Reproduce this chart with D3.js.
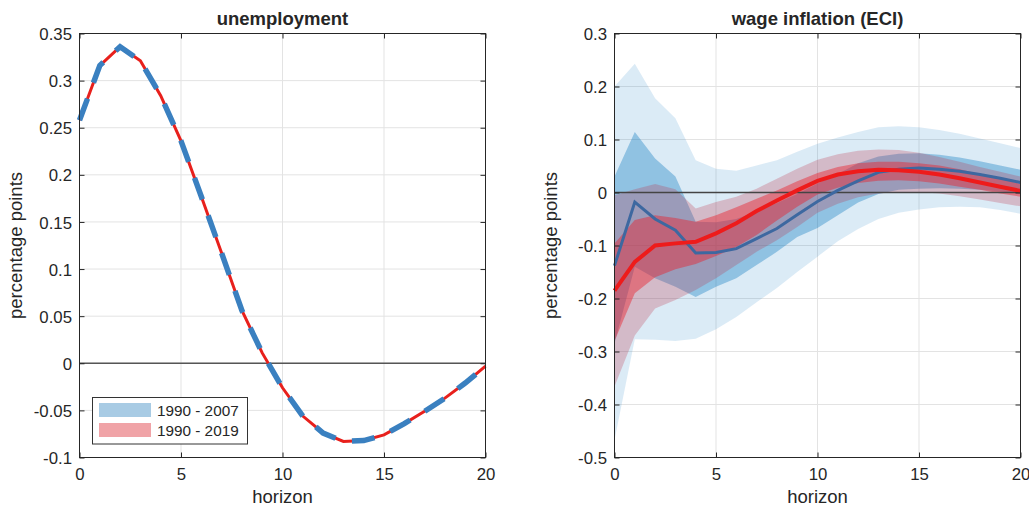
<!DOCTYPE html>
<html><head><meta charset="utf-8">
<script src="https://cdn.jsdelivr.net/npm/d3@7"></script>
<style>
body{margin:0;background:#fff}
svg{display:block}
text{font-family:"Liberation Sans",Arial,Helvetica,sans-serif;fill:#262626}
</style>
</head><body>
<svg id="c" width="1029" height="508"></svg>
<script>
// ---------- data ----------
const horizon = [0,1,2,3,4,5,6,7,8,9,10,11,12,13,14,15,16,17,18,19,20];
const xTicks = [0,5,10,15,20];
const seriesNames = ["1990 - 2007","1990 - 2019"];

// unemployment
const unempTitle = "unemployment";
const unempYTicks = [0.35,0.3,0.25,0.2,0.15,0.1,0.05,0,-0.05,-0.1];
const unempYLabels = ["0.35","0.3","0.25","0.2","0.15","0.1","0.05","0","-0.05","-0.1"];
const unemp2019 = [0.258,0.316,0.336,0.321,0.284,0.236,0.177,0.117,0.056,0.011,-0.026,-0.056,-0.074,-0.083,-0.082,-0.076,-0.064,-0.051,-0.037,-0.021,-0.003];
const unemp2007 = [0.258,0.316,0.336,0.321,0.284,0.236,0.177,0.117,0.056,0.011,-0.026,-0.056,-0.074,-0.083,-0.082,-0.076,-0.064,-0.051,-0.037,-0.021,-0.003];

// wage inflation (ECI)
const wageTitle = "wage inflation (ECI)";
const wageYTicks = [0.3,0.2,0.1,0,-0.1,-0.2,-0.3,-0.4,-0.5];
const wageYLabels = ["0.3","0.2","0.1","0","-0.1","-0.2","-0.3","-0.4","-0.5"];
const wage2007 = [-0.138,-0.018,-0.05,-0.071,-0.114,-0.113,-0.106,-0.087,-0.068,-0.042,-0.017,0.004,0.022,0.038,0.044,0.046,0.044,0.040,0.034,0.027,0.019];
const wage2019 = [-0.185,-0.131,-0.100,-0.096,-0.093,-0.077,-0.058,-0.035,-0.015,0.004,0.022,0.034,0.040,0.043,0.042,0.039,0.034,0.027,0.019,0.011,0.003];
const wage2007Hi90 = [0.200,0.243,0.178,0.140,0.061,0.045,0.041,0.051,0.061,0.077,0.092,0.104,0.114,0.123,0.125,0.123,0.118,0.111,0.102,0.093,0.084];
const wage2007Lo90 = [-0.467,-0.277,-0.278,-0.280,-0.276,-0.258,-0.235,-0.207,-0.180,-0.150,-0.121,-0.092,-0.069,-0.050,-0.038,-0.032,-0.028,-0.027,-0.028,-0.033,-0.040];
const wage2007Hi68 = [0.030,0.114,0.064,0.030,-0.055,-0.056,-0.050,-0.036,-0.020,-0.003,0.017,0.035,0.055,0.068,0.073,0.074,0.071,0.066,0.059,0.051,0.043];
const wage2007Lo68 = [-0.285,-0.140,-0.162,-0.178,-0.197,-0.178,-0.162,-0.137,-0.112,-0.084,-0.067,-0.043,-0.019,-0.003,0.005,0.007,0.008,0.007,0.005,0.002,-0.002];
const wage2019Hi90 = [-0.005,0.006,0.016,0.006,-0.030,-0.018,-0.008,0.007,0.026,0.045,0.062,0.072,0.079,0.081,0.080,0.075,0.067,0.058,0.048,0.039,0.030];
const wage2019Lo90 = [-0.366,-0.270,-0.219,-0.203,-0.184,-0.162,-0.137,-0.112,-0.090,-0.065,-0.038,-0.021,-0.009,-0.002,0.001,0.001,-0.002,-0.007,-0.013,-0.020,-0.026];
const wage2019Hi68 = [-0.096,-0.052,-0.043,-0.048,-0.055,-0.043,-0.028,-0.012,0.004,0.021,0.037,0.048,0.055,0.058,0.058,0.055,0.051,0.044,0.035,0.026,0.016];
const wage2019Lo68 = [-0.280,-0.190,-0.160,-0.145,-0.135,-0.120,-0.103,-0.080,-0.053,-0.027,-0.004,0.009,0.018,0.022,0.023,0.021,0.017,0.011,0.005,-0.002,-0.008];

const xLabel = "horizon";
const yLabel = "percentage points";

// ---------- drawing ----------
const svg = d3.select("#c");
const AX = "#262626";

function panel(opt){
  const g = svg.append("g");
  const x = d3.scaleLinear().domain([0,20]).range([opt.x0,opt.x1]);
  const y = d3.scaleLinear().domain(opt.yDomain).range([opt.y1,opt.y0]);
  // grid
  const grid = g.append("g");
  grid.selectAll(".gx").data(xTicks).join("line")
    .attr("x1",d=>x(d)).attr("x2",d=>x(d)).attr("y1",opt.y0).attr("y2",opt.y1)
    .attr("stroke","#e3e3e3").attr("stroke-width",1);
  grid.selectAll(".gy").data(opt.yTicks).join("line")
    .attr("x1",opt.x0).attr("x2",opt.x1).attr("y1",d=>y(d)).attr("y2",d=>y(d))
    .attr("stroke","#e3e3e3").attr("stroke-width",1);
  const plot = g.append("g");
  // axes via d3 axis (ticks inside)
  const ax = g.append("g");
  const tl = 5;
  const bottom = ax.append("g").attr("transform",`translate(0,${opt.y1})`)
    .call(d3.axisBottom(x).tickValues(xTicks).tickSizeInner(-tl).tickSizeOuter(0).tickPadding(10.5).tickFormat(d3.format("d")));
  ax.append("g").attr("transform",`translate(0,${opt.y0})`)
    .call(d3.axisTop(x).tickValues(xTicks).tickSizeInner(-tl).tickSizeOuter(0).tickFormat(""));
  const left = ax.append("g").attr("transform",`translate(${opt.x0},0)`)
    .call(d3.axisLeft(y).tickValues(opt.yTicks).tickSizeInner(-tl).tickSizeOuter(0).tickPadding(7.5)
      .tickFormat((d,i)=>opt.yLabels[i]));
  ax.append("g").attr("transform",`translate(${opt.x1},0)`)
    .call(d3.axisRight(y).tickValues(opt.yTicks).tickSizeInner(-tl).tickSizeOuter(0).tickFormat(""));
  ax.selectAll(".domain").remove();
  ax.selectAll(".tick line").attr("stroke",AX).attr("stroke-width",1);
  ax.selectAll(".tick text").attr("font-size","16.8px").attr("fill",AX)
    .style("font-family",'"Liberation Sans",Arial,sans-serif');
  left.selectAll(".tick text").attr("dy","0.36em");
  bottom.selectAll(".tick text").attr("dy","0.71em");
  ax.append("rect").attr("x",opt.x0).attr("y",opt.y0).attr("width",opt.x1-opt.x0).attr("height",opt.y1-opt.y0)
    .attr("fill","none").attr("stroke",AX).attr("stroke-width",1);
  // title & labels
  g.append("text").attr("x",(opt.x0+opt.x1)/2).attr("y",25).attr("text-anchor","middle")
    .attr("font-size","18.5px").attr("font-weight","bold").attr("fill","#000").text(opt.title);
  g.append("text").attr("x",(opt.x0+opt.x1)/2).attr("y",503).attr("text-anchor","middle")
    .attr("font-size","18.5px").text(xLabel);
  g.append("text").attr("transform",`translate(${opt.x0-58},${(opt.y0+opt.y1)/2}) rotate(-90)`)
    .attr("text-anchor","middle").attr("font-size","18.5px").text(yLabel);
  return {g,plot,x,y};
}

// Left panel
const L = panel({x0:79.5,x1:485.5,y0:33.5,y1:457.5,yDomain:[-0.1,0.35],yTicks:unempYTicks,yLabels:unempYLabels,title:unempTitle});
L.plot.append("line").attr("x1",L.x(0)).attr("x2",L.x(20)).attr("y1",L.y(0)).attr("y2",L.y(0))
  .attr("stroke","#555").attr("stroke-width",1.5);
const lineL = (arr)=>d3.line().x((d,i)=>L.x(horizon[i])).y(d=>L.y(d))(arr);
L.plot.append("path").attr("d",lineL(unemp2019)).attr("fill","none").attr("stroke","#e8201c").attr("stroke-width",3);
L.plot.append("path").attr("d",lineL(unemp2007)).attr("fill","none").attr("stroke","#3a80c0").attr("stroke-width",5.5)
  .attr("stroke-dasharray","23,17");

// legend
const lg = L.g.append("g");
lg.append("rect").attr("x",92.5).attr("y",397.5).attr("width",155).attr("height",46.5)
  .attr("fill","#fff").attr("stroke","#333").attr("stroke-width",1);
const legColors = ["#a8cbe4","#f0a3a7"];
seriesNames.forEach((n,i)=>{
  lg.append("rect").attr("x",99).attr("y",403+i*20).attr("width",52).attr("height",14).attr("fill",legColors[i]);
  lg.append("text").attr("x",157).attr("y",410+i*20).attr("dy","0.36em").attr("font-size","15.3px").text(n);
});

// Right panel
const R = panel({x0:614.5,x1:1020.5,y0:33.5,y1:457.5,yDomain:[-0.5,0.3],yTicks:wageYTicks,yLabels:wageYLabels,title:wageTitle});
const area = (hi,lo)=>d3.area().x((d,i)=>R.x(horizon[i])).y0((d,i)=>R.y(lo[i])).y1(d=>R.y(d))(hi);
R.plot.append("path").attr("d",area(wage2007Hi90,wage2007Lo90)).attr("fill","rgb(0,114,189)").attr("fill-opacity",0.14);
R.plot.append("path").attr("d",area(wage2007Hi68,wage2007Lo68)).attr("fill","rgb(0,114,189)").attr("fill-opacity",0.34);
R.plot.append("path").attr("d",area(wage2019Hi90,wage2019Lo90)).attr("fill","rgb(190,45,70)").attr("fill-opacity",0.26);
R.plot.append("path").attr("d",area(wage2019Hi68,wage2019Lo68)).attr("fill","rgb(235,30,40)").attr("fill-opacity",0.44);
R.plot.append("line").attr("x1",R.x(0)).attr("x2",R.x(20)).attr("y1",R.y(0)).attr("y2",R.y(0))
  .attr("stroke","#444").attr("stroke-width",1.3);
const lineR = (arr)=>d3.line().x((d,i)=>R.x(horizon[i])).y(d=>R.y(d))(arr);
R.plot.append("path").attr("d",lineR(wage2007)).attr("fill","none").attr("stroke","#3d68a0").attr("stroke-width",3);
R.plot.append("path").attr("d",lineR(wage2019)).attr("fill","none").attr("stroke","#ee1b1b").attr("stroke-width",4);
</script>
</body></html>
